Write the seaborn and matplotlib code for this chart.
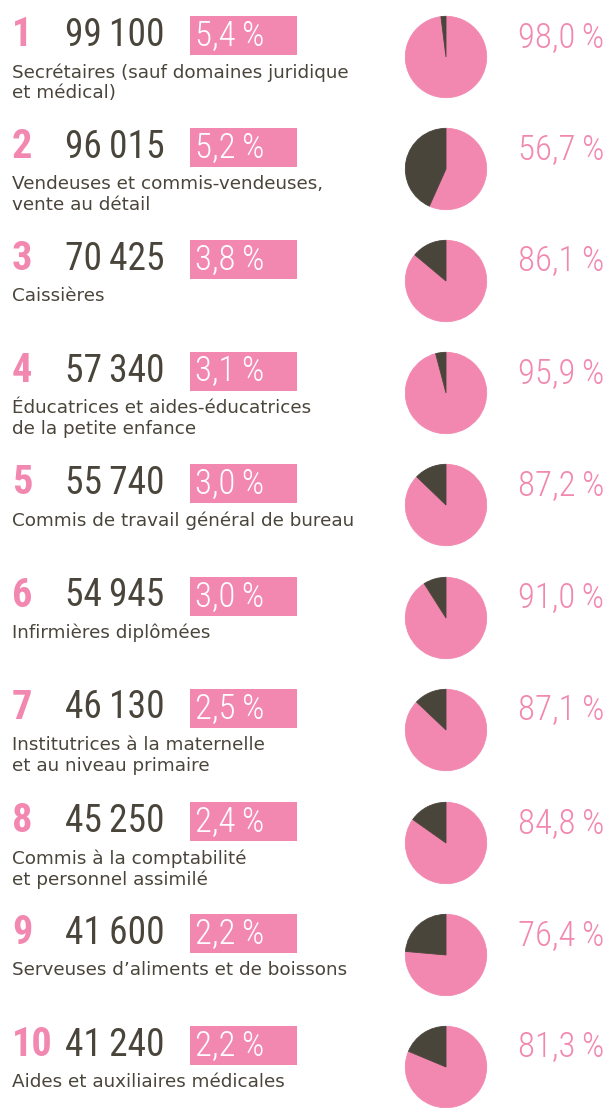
import matplotlib
matplotlib.use("Agg")
import matplotlib.pyplot as plt
import seaborn as sns

# top 10 occupations held by women
ranks = [1, 2, 3, 4, 5, 6, 7, 8, 9, 10]
counts = [99100, 96015, 70425, 57340, 55740, 54945, 46130, 45250, 41600, 41240]
shares = [5.4, 5.2, 3.8, 3.1, 3.0, 3.0, 2.5, 2.4, 2.2, 2.2]
women_pct = [98.0, 56.7, 86.1, 95.9, 87.2, 91.0, 87.1, 84.8, 76.4, 81.3]
labels = [
    "Secrétaires (sauf domaines juridique\net médical)",
    "Vendeuses et commis-vendeuses,\nvente au détail",
    "Caissières",
    "Éducatrices et aides-éducatrices\nde la petite enfance",
    "Commis de travail général de bureau",
    "Infirmières diplômées",
    "Institutrices à la maternelle\net au niveau primaire",
    "Commis à la comptabilité\net personnel assimilé",
    "Serveuses d’aliments et de boissons",
    "Aides et auxiliaires médicales",
]

sns.set_style("white")
pink, dark = sns.color_palette(["#F288B0", "#4A453B"])

narrow = ["Roboto Condensed", "Liberation Sans Narrow", "DejaVu Sans"]
body = ["DejaVu Sans"]

W, H = 614, 1108
fig = plt.figure(figsize=(W / 100, H / 100), dpi=100)
ax = fig.add_axes([0, 0, 1, 1])
ax.set_xlim(0, W)
ax.set_ylim(H, 0)
ax.axis("off")

row_y = [35, 147, 259, 371, 483, 596, 708, 821, 933, 1045]

for i in range(len(ranks)):
    y = row_y[i]
    # rank
    ax.text(12, y, str(ranks[i]), color=pink, fontsize=29, fontweight="bold",
            family=narrow, va="center", ha="left")
    # count
    ax.text(65, y, f"{counts[i]:,}".replace(",", "\u2009"), color=dark, fontsize=27,
            family=narrow, va="center", ha="left")
    # share box
    ax.add_patch(plt.Rectangle((190, y - 19.5), 107, 39, color=pink, lw=0))
    ax.text(195, y, f"{shares[i]:.1f}\u2009%".replace(".", ","), color="white",
            fontsize=25, fontweight="light", family=narrow, va="center", ha="left")
    # label
    ax.text(12, y + 28, labels[i], color=dark, fontsize=13.2,
            family=body, va="top", ha="left", linespacing=1.2)
    # percent of women
    ax.text(604, y + 2, f"{women_pct[i]:.1f}\u2009%".replace(".", ","), color=pink,
            fontsize=25, fontweight="light", family=narrow, va="center", ha="right")

    # pie
    cx, cy, r = 446, y + 22, 41.5
    pax = fig.add_axes([(cx - r) / W, 1 - (cy + r) / H, 2 * r / W, 2 * r / H])
    wedges, _ = pax.pie([women_pct[i], 100 - women_pct[i]], colors=[pink, dark],
                        startangle=90, counterclock=False, radius=1)
    for w in wedges:
        w.set_edgecolor(w.get_facecolor())
        w.set_linewidth(0.6)
    pax.set_xlim(-1.02, 1.02)
    pax.set_ylim(-1.02, 1.02)
    pax.axis("off")

fig.savefig("out.png", dpi=100)
